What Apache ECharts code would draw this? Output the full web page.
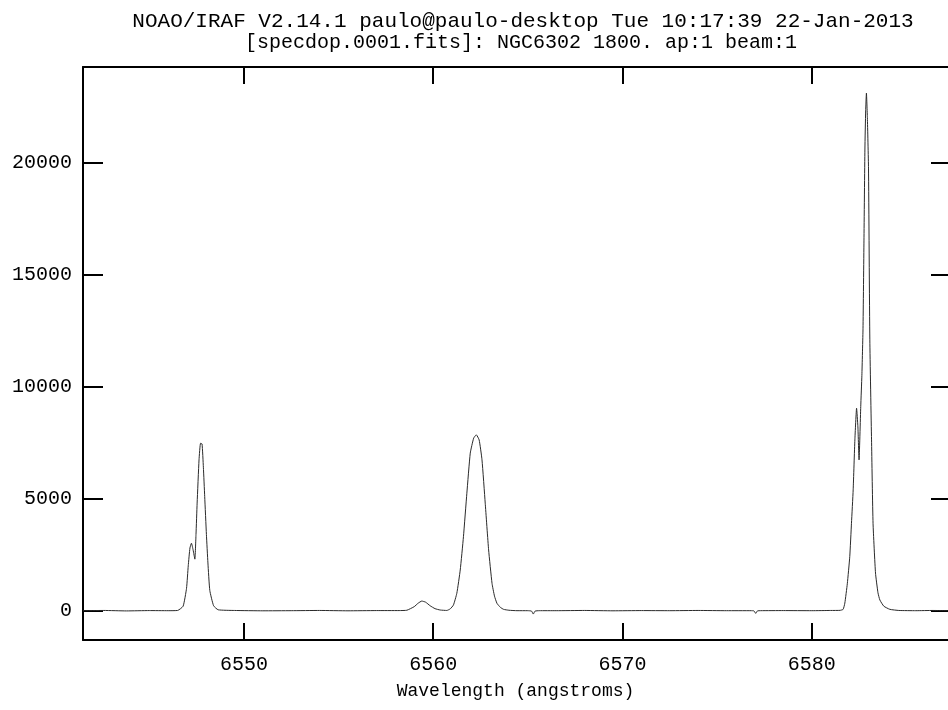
<!DOCTYPE html>
<html>
<head>
<meta charset="utf-8">
<script src="https://cdn.jsdelivr.net/npm/echarts@6/dist/echarts.min.js"></script>
<style>
html,body{margin:0;padding:0;background:#fff;}
#chart{width:948px;height:710px;}
</style>
</head>
<body>
<div id="chart"></div>
<script>
var titleLine1 = 'NOAO/IRAF V2.14.1 paulo@paulo-desktop Tue 10:17:39 22-Jan-2013';
var titleLine2 = '[specdop.0001.fits]: NGC6302 1800. ap:1 beam:1';
var xAxisName = 'Wavelength (angstroms)';
var xTicks = [6550, 6560, 6570, 6580];
var yTicks = [0, 5000, 10000, 15000, 20000];

var wavelength = [
  6541.5, 6542.6, 6543.8, 6545.0, 6546.0, 6546.5, 6546.79, 6546.97, 6547.06, 6547.15,
  6547.23, 6547.32, 6547.41, 6547.47, 6547.53, 6547.63, 6547.71, 6547.79, 6547.86, 6547.93,
  6548.02, 6548.10, 6548.20, 6548.40, 6548.64, 6549.5, 6551.0, 6552.5, 6554.0, 6555.5,
  6557.0, 6558.2, 6558.61, 6559.0, 6559.2, 6559.4, 6559.6, 6559.84, 6560.1, 6560.37,
  6560.72, 6560.9, 6561.07, 6561.25, 6561.43, 6561.60, 6561.78, 6561.96, 6562.14, 6562.28,
  6562.43, 6562.58, 6562.75, 6562.93, 6563.11, 6563.24, 6563.37, 6563.55, 6563.72, 6564.0,
  6564.43, 6565.0, 6565.2, 6565.29, 6565.38, 6565.6, 6566.5, 6568.0, 6569.5, 6571.0,
  6572.5, 6574.0, 6575.5, 6576.8, 6576.95, 6577.04, 6577.13, 6577.3, 6578.5, 6580.0,
  6581.0, 6581.5, 6581.66, 6581.75, 6581.88, 6582.01, 6582.10, 6582.19, 6582.28, 6582.37,
  6582.44, 6582.50, 6582.59, 6582.65, 6582.71, 6582.76, 6582.81, 6582.85, 6582.89, 6582.94,
  6583.00, 6583.07, 6583.16, 6583.24, 6583.37, 6583.50, 6583.60, 6583.81, 6584.13, 6584.6,
  6585.5, 6586.4, 6587.2
];
var flux = [
  0, 10, -10, 5, 0, 10, 200, 1000, 2000, 2800,
  3010, 2700, 2300, 3400, 4800, 6730, 7470, 7440, 6400, 5090,
  3400, 2130, 900, 220, 40, 10, -5, 0, 10, -5,
  5, 5, 20, 180, 330, 430, 380, 220, 90, 30,
  10, 80, 250, 777, 1815, 3300, 5240, 7030, 7700, 7845,
  7620, 6730, 4800, 2710, 1220, 650, 330, 150, 60, 20,
  0, 0, -20, -150, -20, 0, 0, 10, -5, 5,
  0, 10, 0, 0, -10, -120, -10, 0, 5, 0,
  10, 15, 60, 340, 1200, 2410, 3900, 5390, 7620, 9035,
  8200, 6728, 9107, 10500, 12600, 16500, 20600, 22300, 23098, 22000,
  19750, 12085, 7620, 3900, 1680, 800, 478, 200, 60, 10,
  0, 10, 0
];

var seriesData = wavelength.map(function (w, i) { return [w, flux[i]]; });
var plain = function (v) { return String(v); };

var FONT = 'Liberation Mono';
var chart = echarts.init(document.getElementById('chart'), null, {renderer: 'canvas'});
chart.setOption({
  animation: false,
  backgroundColor: '#ffffff',
  title: [
    {text: titleLine1, left: 518, top: 6, textAlign: 'center',
     textStyle: {fontFamily: FONT, fontSize: 21, fontWeight: 'normal', color: '#000'}},
    {text: titleLine2, left: 516, top: 28, textAlign: 'center',
     textStyle: {fontFamily: FONT, fontSize: 20, fontWeight: 'normal', color: '#000'}}
  ],
  grid: {left: 83, top: 67, width: 865, height: 573, show: false, containLabel: false, outerBoundsMode: 'none'},
  xAxis: [
    {type: 'value', position: 'bottom', min: 6541.5, max: 6587.2,
     name: xAxisName, nameLocation: 'middle', nameGap: 42,
     nameTextStyle: {fontFamily: FONT, fontSize: 18, color: '#000'},
     axisLine: {show: true, onZero: false, lineStyle: {color: '#000', width: 2}},
     axisTick: {show: true, inside: true, length: 17, customValues: xTicks, lineStyle: {color: '#000', width: 2}},
     axisLabel: {show: true, customValues: xTicks, formatter: plain, margin: 15, fontFamily: FONT, fontSize: 20, color: '#000'},
     splitLine: {show: false}},
    {type: 'value', position: 'top', min: 6541.5, max: 6587.2,
     axisLine: {show: true, onZero: false, lineStyle: {color: '#000', width: 2}},
     axisTick: {show: true, inside: true, length: 17, customValues: xTicks, lineStyle: {color: '#000', width: 2}},
     axisLabel: {show: false},
     splitLine: {show: false}}
  ],
  yAxis: [
    {type: 'value', position: 'left', min: -1308, max: 24260,
     axisLine: {show: true, onZero: false, lineStyle: {color: '#000', width: 2}},
     axisTick: {show: true, inside: true, length: 20, customValues: yTicks, lineStyle: {color: '#000', width: 2}},
     axisLabel: {show: true, customValues: yTicks, formatter: plain, margin: 11, fontFamily: FONT, fontSize: 20, color: '#000'},
     splitLine: {show: false}},
    {type: 'value', position: 'right', min: -1308, max: 24260,
     axisLine: {show: false},
     axisTick: {show: true, inside: true, length: 17, customValues: yTicks, lineStyle: {color: '#000', width: 2}},
     axisLabel: {show: false},
     splitLine: {show: false}}
  ],
  series: [{
    type: 'line',
    xAxisIndex: 0,
    yAxisIndex: 0,
    data: seriesData,
    showSymbol: false,
    smooth: 0.15,
    lineStyle: {color: '#2a2a2a', width: 1},
    silent: true
  }]
});
</script>
</body>
</html>
